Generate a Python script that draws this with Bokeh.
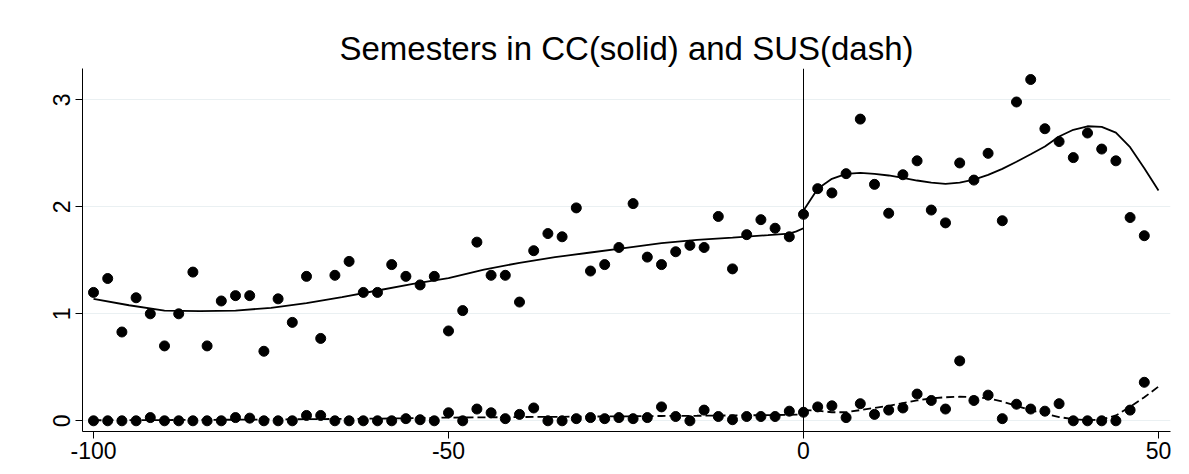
from bokeh.plotting import figure
from bokeh.models import Range1d, FixedTicker, Span, CustomJSTickFormatter
from bokeh.embed import file_html
from bokeh.resources import INLINE

# bins (running variable)
x_bins = [-100, -98, -96, -94, -92, -90, -88, -86, -84, -82, -80, -78, -76, -74, -72,
          -70, -68, -66, -64, -62, -60, -58, -56, -54, -52, -50, -48, -46, -44, -42,
          -40, -38, -36, -34, -32, -30, -28, -26, -24, -22, -20, -18, -16, -14, -12,
          -10, -8, -6, -4, -2, 0, 2, 4, 6, 8, 10, 12, 14, 16, 18,
          20, 22, 24, 26, 28, 30, 32, 34, 36, 38, 40, 42, 44, 46, 48]

# semesters in CC (bin means)
cc_means = [1.20, 1.33, 0.83, 1.15, 1.00, 0.70, 1.00, 1.39, 0.70, 1.12, 1.17, 1.17, 0.65, 1.14, 0.92,
            1.35, 0.77, 1.36, 1.49, 1.20, 1.20, 1.46, 1.35, 1.27, 1.35, 0.84, 1.03, 1.67, 1.36, 1.36,
            1.11, 1.59, 1.75, 1.72, 1.99, 1.40, 1.46, 1.62, 2.03, 1.53, 1.46, 1.58, 1.64, 1.62, 1.91,
            1.42, 1.74, 1.88, 1.80, 1.72, 1.93, 2.17, 2.13, 2.31, 2.82, 2.21, 1.94, 2.30, 2.43, 1.97,
            1.85, 2.41, 2.25, 2.50, 1.87, 2.98, 3.19, 2.73, 2.61, 2.46, 2.69, 2.54, 2.43, 1.90, 1.73]

# semesters in SUS (bin means)
sus_means = [0.0, 0.0, 0.0, 0.0, 0.03, 0.0, 0.0, 0.0, 0.0, 0.0, 0.03, 0.025, 0.0, 0.0, 0.0,
             0.05, 0.05, 0.0, 0.0, 0.0, 0.0, 0.0, 0.02, 0.01, 0.0, 0.075, 0.0, 0.11, 0.075, 0.02,
             0.06, 0.12, 0.0, 0.0, 0.02, 0.03, 0.02, 0.03, 0.02, 0.03, 0.13, 0.04, 0.0, 0.10, 0.04,
             0.01, 0.04, 0.04, 0.04, 0.09, 0.08, 0.13, 0.14, 0.03, 0.16, 0.06, 0.10, 0.12, 0.25, 0.19,
             0.11, 0.56, 0.19, 0.24, 0.02, 0.155, 0.11, 0.09, 0.16, 0.0, 0.0, 0.0, 0.0, 0.10, 0.36]

# smoothed fits, left of cutoff
fit_left_x = [-100, -95, -90, -85, -80, -75, -70, -65, -60, -55, -50, -45, -40, -35, -30,
              -25, -20, -15, -10, -5, -2, -1, 0]
cc_fit_left = [1.14, 1.08, 1.03, 1.025, 1.03, 1.056, 1.10, 1.156, 1.218, 1.28, 1.333, 1.414, 1.477, 1.529, 1.573,
               1.617, 1.66, 1.692, 1.713, 1.735, 1.75, 1.77, 1.80]
sus_fit_left = [0.005, 0.006, 0.007, 0.009, 0.01, 0.013, 0.015, 0.018, 0.02, 0.025, 0.03, 0.032, 0.035, 0.037, 0.04,
                0.042, 0.045, 0.047, 0.05, 0.053, 0.056, 0.058, 0.06]

# smoothed fits, right of cutoff
fit_right_x = [0, 2, 4, 6, 8, 10, 12, 14, 16, 18, 20, 22, 24, 26, 28, 30, 32, 34, 36, 38, 40, 42, 44, 46, 48, 50]
cc_fit_right = [1.965, 2.168, 2.262, 2.308, 2.318, 2.308, 2.293, 2.271, 2.246, 2.227, 2.215, 2.227, 2.255,
                2.299, 2.355, 2.421, 2.492, 2.564, 2.657, 2.720, 2.753, 2.748, 2.694, 2.557, 2.361, 2.152]
sus_fit_right = [0.10, 0.095, 0.08, 0.08, 0.10, 0.12, 0.14, 0.165, 0.19, 0.21, 0.22, 0.225, 0.22,
                 0.21, 0.18, 0.14, 0.10, 0.065, 0.035, 0.015, 0.005, 0.012, 0.05, 0.13, 0.22, 0.32]

x_ticks = [-100, -50, 0, 50]
y_ticks = [0, 1, 2, 3]
title_text = "Semesters in CC(solid) and SUS(dash)"

FONT = "Liberation Sans"

p = figure(width=1189, height=474,
           x_range=Range1d(-101.55, 51.69), y_range=Range1d(-0.100, 3.293),
           output_backend="svg", toolbar_location=None,
           min_border_left=82, min_border_right=19, min_border_top=68, min_border_bottom=43,
           title=title_text)

p.title.align = "center"
p.title.text_font = FONT
p.title.text_font_size = "33px"
p.title.text_font_style = "normal"
p.title.text_color = "black"
p.title.standoff = 3

p.outline_line_color = None
p.background_fill_color = "white"
p.border_fill_color = "white"

p.xgrid.visible = False
p.ygrid.grid_line_color = "#EAF0F2"
p.ygrid.grid_line_width = 1

for ax in (p.xaxis, p.yaxis):
    ax.axis_line_color = "black"
    ax.axis_line_width = 1
    ax.major_tick_line_color = "black"
    ax.major_tick_line_width = 1
    ax.major_tick_in = 0
    ax.major_tick_out = 7
    ax.minor_tick_line_color = None
    ax.major_label_text_font = FONT
    ax.major_label_text_font_size = "23px"
    ax.major_label_text_color = "black"
    ax.formatter = CustomJSTickFormatter(code="return String(tick);")

p.xaxis.ticker = FixedTicker(ticks=x_ticks)
p.yaxis.ticker = FixedTicker(ticks=y_ticks)
p.yaxis.major_label_orientation = "vertical"
p.xaxis.major_label_standoff = 3
p.yaxis.major_label_standoff = 5

p.add_layout(Span(location=0, dimension="height", line_color="black", line_width=1))

p.line(fit_left_x, cc_fit_left, line_color="black", line_width=1.8)
p.line(fit_right_x, cc_fit_right, line_color="black", line_width=1.8)
p.line(fit_left_x, sus_fit_left, line_color="black", line_width=1.8, line_dash="8 4")
p.line(fit_right_x, sus_fit_right, line_color="black", line_width=1.8, line_dash="8 4")

p.scatter(x_bins, cc_means, size=10, color="black")
p.scatter(x_bins, sus_means, size=10, color="black")

open("out.html", "w").write(file_html(p, INLINE))
